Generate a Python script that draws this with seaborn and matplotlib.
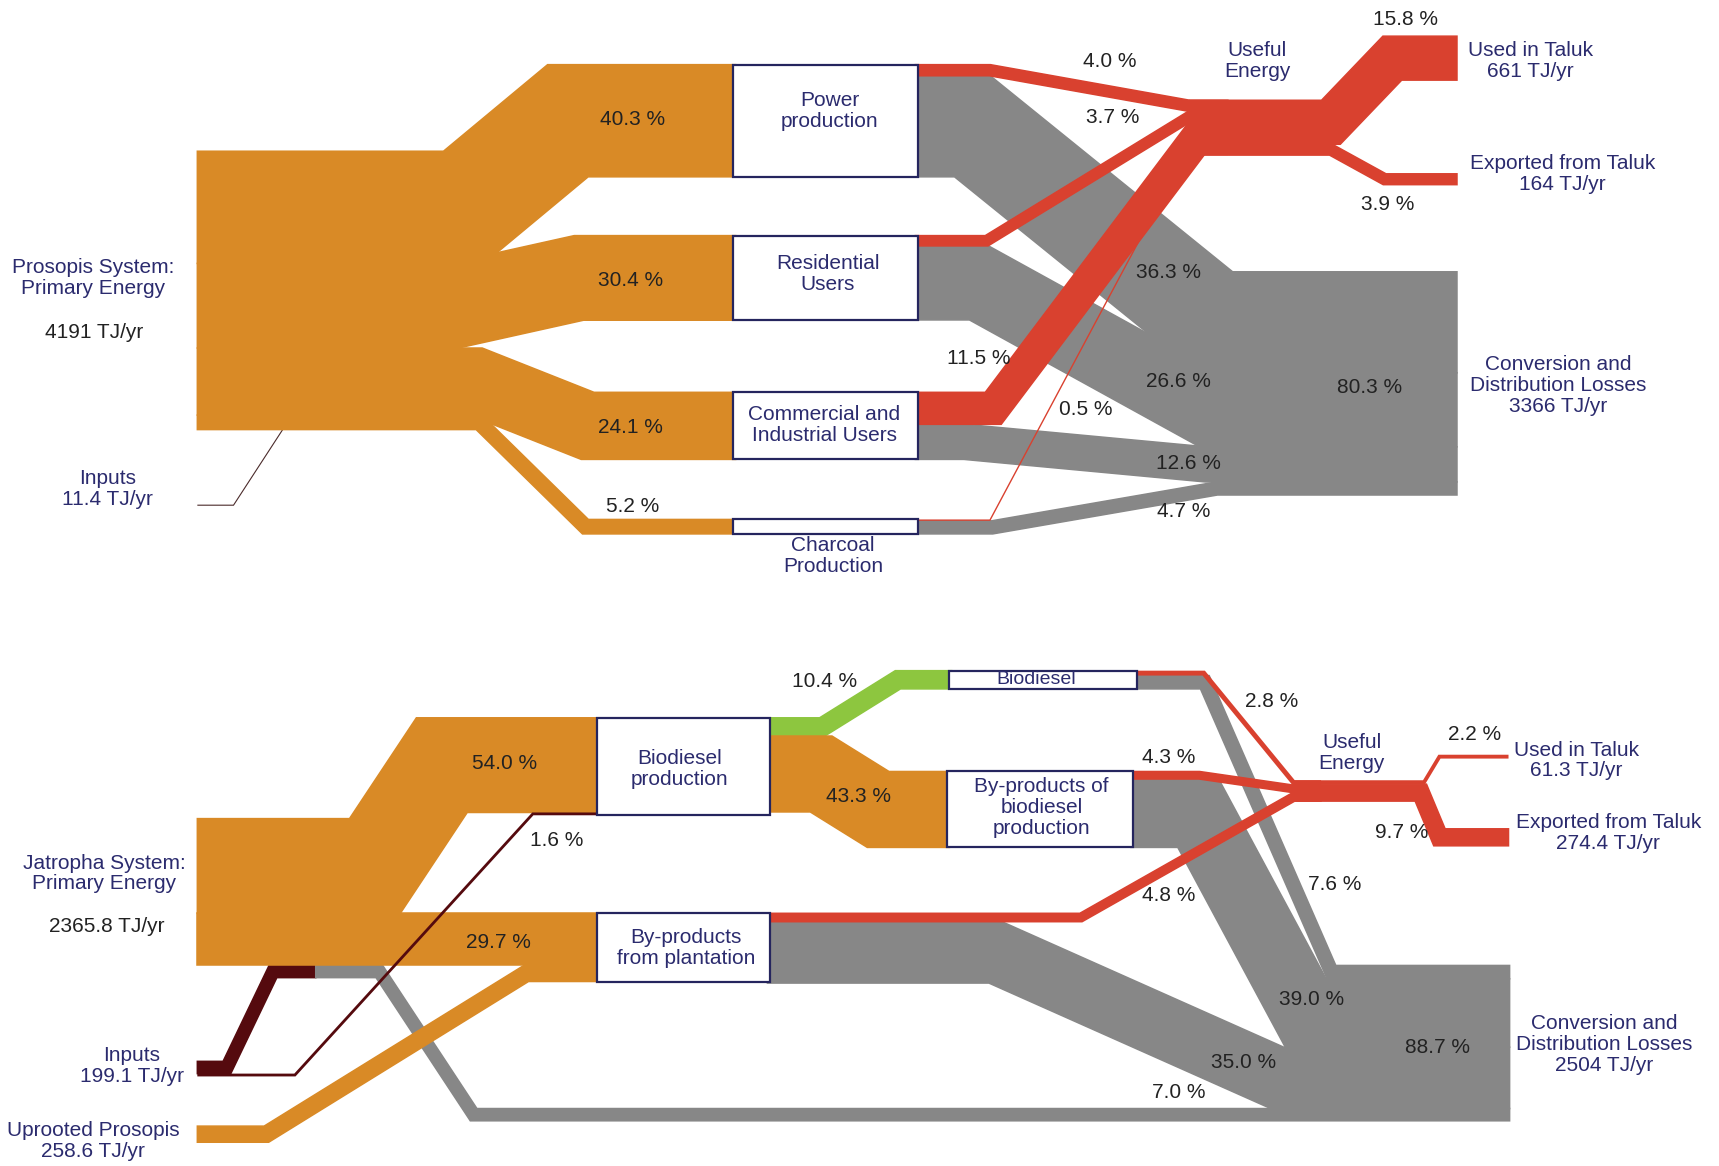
import numpy as np
import matplotlib
matplotlib.use("Agg")
import matplotlib.pyplot as plt
import seaborn as sns

# ======================= DATA =======================
# --- Prosopis system (percent of primary energy, 4191 TJ/yr) ---
pro_nodes = ["Power\nproduction", "Residential\nUsers",
             "Commercial and\nIndustrial Users", "Charcoal\nProduction"]
pro_share = [40.3, 30.4, 24.1, 5.2]          # primary -> conversion node
pro_useful = [4.0, 3.7, 11.5, 0.5]           # node -> useful energy
pro_losses = [36.3, 26.6, 12.6, 4.7]         # node -> losses
pro_useful_split = [15.8, 3.9]               # used in taluk, exported
pro_loss_total = 80.3
pro_inputs = 0.27                            # 11.4 TJ/yr

# --- Jatropha system (percent of total energy) ---
jat_primary = [54.0, 29.7]                   # -> biodiesel production, -> by-products from plantation
jat_inputs = [7.0, 1.6]                      # inputs -> losses, inputs -> biodiesel production
jat_uprooted = 9.2                           # uprooted prosopis -> by-products from plantation
jat_bd_split = [10.4, 43.3]                  # biodiesel, by-products of biodiesel production
jat_useful = [2.8, 4.3, 4.8]                 # biodiesel, by-products biodiesel, by-products plantation
jat_losses = [7.6, 39.0, 35.0, 7.0]          # biodiesel, by-products biodiesel, plantation, inputs
jat_useful_split = [2.2, 9.7]                # used in taluk, exported
jat_loss_total = 88.7

# ======================= STYLE =======================
sns.set_theme(style="white")
plt.rcParams["font.family"] = ["Liberation Sans", "DejaVu Sans"]
ORANGE = "#D98A26"
RED = "#D9412F"
GRAY = "#878787"
GREEN = "#8DC63F"
MAROON = "#550A0E"
NAVY = "#2B2B6E"
BOXEDGE = "#25255E"
TXT = "#222222"
FS = 15

fig = plt.figure(figsize=(17.19, 11.66), dpi=100)
ax = fig.add_axes([0, 0, 1, 1])
ax.set_xlim(0, 1568)
ax.set_ylim(1064, 0)
ax.axis("off")


def stack(top, vals, k):
    v = np.asarray(vals, float) * k
    tops = top + np.concatenate([[0.0], np.cumsum(v)[:-1]])
    return tops + v / 2


def miter_polygon(pts, w):
    p = np.asarray(pts, float)
    d = np.diff(p, axis=0)
    d /= np.hypot(d[:, 0], d[:, 1])[:, None]
    nrm = np.column_stack([-d[:, 1], d[:, 0]])
    offs = []
    for i in range(len(p)):
        if i == 0:
            o = nrm[0]
        elif i == len(p) - 1:
            o = nrm[-1]
        else:
            m = nrm[i - 1] + nrm[i]
            m /= np.hypot(*m)
            o = m / np.dot(m, nrm[i])
        offs.append(o * w / 2)
    offs = np.array(offs)
    return np.vstack([p + offs, (p - offs)[::-1]])


def flow(xs, ys, value, k, color, z=2):
    w = value * k
    poly = miter_polygon(list(zip(xs, ys)), w)
    lw = 1.1 if w > 6 else 0.0
    ax.fill(poly[:, 0], poly[:, 1], color=color, ec=color, lw=lw, zorder=z)


def route(x0, b1, b2, x1, y0, y1):
    return [x0, b1, b2, x1], [y0, y0, y1, y1]


def box(x0, x1, top, h, lw=1.6):
    ax.add_patch(plt.Rectangle((x0, top), x1 - x0, h, fc="white", ec=BOXEDGE,
                               lw=lw, zorder=6))


def label(x, y, s, color=NAVY, fs=FS):
    ax.text(x, y, s, ha="center", va="center", fontsize=fs, color=color,
            linespacing=1.12, zorder=10)


def pct(x, y, v):
    label(x, y, f"{v:.1f} %", color=TXT)


# ======================= PROSOPIS (top) =======================
k1 = 2.54
prim_c = stack(138, pro_share, k1)
box_top = [59, 215, 358, 474]
bx0, bx1 = 669, 837
useful_in = stack(91.5, pro_useful, k1)
useful_out = stack(91.5, pro_useful_split, k1)
loss_in = stack(248, pro_losses, k1)

# inputs line into primary block
flow([180, 213, 265], [461, 461, 381], max(pro_inputs, 0.4), k1, "#4a2a2a", z=1)

# primary -> conversion nodes
ob1 = [423, 414, 434, 437]
ob2 = [518, 528, 536, 534]
for i, v in enumerate(pro_share):
    tc = box_top[i] + v * k1 / 2
    xs, ys = route(180, ob1[i], ob2[i], bx0 + 2, prim_c[i], tc)
    flow(xs, ys, v, k1, ORANGE, z=2)

# node -> losses (gray)
gb1 = [887, 893, 880, 905]
gb2 = [1108, 1103, 1100, 1110]
for i in range(4):
    src = stack(box_top[i], [pro_useful[i], pro_losses[i]], k1)
    xs, ys = route(bx1 - 2, gb1[i], gb2[i], 1329, src[1], loss_in[i])
    flow(xs, ys, pro_losses[i], k1, GRAY, z=3)

# node -> useful (red)
rb1 = [903, 900, 906, 903]
rb2 = [1085, 1085, 1092, 1081]
for i in [3, 0, 1, 2]:
    src = stack(box_top[i], [pro_useful[i], pro_losses[i]], k1)
    xs, ys = route(bx1 - 2, rb1[i], rb2[i], 1120, src[0], useful_in[i])
    flow(xs, ys, pro_useful[i], k1, RED, z=4)

# useful -> used / exported
end_c = [33 + pro_useful_split[0] * k1 / 2, 158.6 + pro_useful_split[1] * k1 / 2]
ub1 = [1214, 1214]
ub2 = [1270, 1263]
for i, v in enumerate(pro_useful_split):
    xs, ys = route(1085, ub1[i], ub2[i], 1329, useful_out[i], end_c[i])
    flow(xs, ys, v, k1, RED, z=4)

for i, v in enumerate(pro_share):
    box(bx0, bx1, box_top[i], v * k1)

label(85, 254, "Prosopis System:\nPrimary Energy")
label(86, 303, "4191 TJ/yr", color=TXT)
label(98, 446, "Inputs\n11.4 TJ/yr")
node_lab_pos = [(757, 101), (755, 250), (752, 388), (760, 507)]
for (x, y), s in zip(node_lab_pos, pro_nodes):
    label(x, y, s)
label(1147, 56, "Useful\nEnergy")
label(1396, 56, "Used in Taluk\n661 TJ/yr")
label(1425, 159, "Exported from Taluk\n164 TJ/yr")
label(1421, 352, "Conversion and\nDistribution Losses\n3366 TJ/yr")

for (x, y), v in zip([(577, 109), (575, 256), (575, 390), (577, 462)], pro_share):
    pct(x, y, v)
for (x, y), v in zip([(1012, 56), (1015, 107), (893, 327), (990, 374)], pro_useful):
    pct(x, y, v)
for (x, y), v in zip([(1066, 249), (1075, 348), (1084, 423), (1080, 467)], pro_losses):
    pct(x, y, v)
pct(1249, 354, pro_loss_total)
pct(1282, 18, pro_useful_split[0])
pct(1266, 187, pro_useful_split[1])

# ======================= JATROPHA (bottom) =======================
k2 = 1.6
jat_c = stack(747, jat_primary, k2)
inp_c = stack(968.5, jat_inputs, k2)
upr_c = 1027.6 + jat_uprooted * k2 / 2
bdp_top, bdp_x0, bdp_x1 = 655, 544.5, 702
pl_top = 833.4
bdp_in = stack(bdp_top, [jat_primary[0], jat_inputs[1]], k2)
pl_in = stack(pl_top, [jat_primary[1], jat_uprooted], k2)
bdp_out = stack(bdp_top, jat_bd_split, k2)
bio_top, bio_x0, bio_x1 = 612, 866, 1037
byp_top, byp_x0, byp_x1 = 704, 864, 1033.5
bio_out = stack(bio_top, [jat_useful[0], jat_losses[0]], k2)
byp_out = stack(byp_top, [jat_useful[1], jat_losses[1]], k2)
pl_out = stack(pl_top, [jat_useful[2], jat_losses[2]], k2)
u_in = stack(712, jat_useful, k2)
u_out = stack(712, jat_useful_split, k2)
l_in = stack(881, jat_losses, k2)

# inputs -> losses (maroon then gray)
y_in_top = jat_c[1] + jat_primary[1] * k2 / 2 + jat_inputs[0] * k2 / 2
flow([180, 207, 249, 288], [inp_c[0], inp_c[0], y_in_top, y_in_top],
     jat_inputs[0], k2, MAROON, z=2)
flow([288, 346, 432, 1377], [y_in_top, y_in_top, l_in[3], l_in[3]], jat_inputs[0], k2, GRAY, z=2)

# primary -> biodiesel production / plantation
xs, ys = route(180, 342, 403, bdp_x0 + 2, jat_c[0], bdp_in[0])
flow(xs, ys, jat_primary[0], k2, ORANGE, z=3)
flow([180, bdp_x0 + 2], [jat_c[1], pl_in[0]], jat_primary[1], k2, ORANGE, z=3)
# uprooted prosopis
xs, ys = route(180, 243, 480, bdp_x0 + 2, upr_c, pl_in[1])
flow(xs, ys, jat_uprooted, k2, ORANGE, z=3)
# inputs -> biodiesel production (thin)
xs, ys = route(180, 269, 486, bdp_x0 + 2, inp_c[1], bdp_in[1])
flow(xs, ys, jat_inputs[1], k2, MAROON, z=4)

# biodiesel production -> biodiesel (green) / by-products (orange)
xs, ys = route(bdp_x1 - 2, 750, 819, bio_x0 + 2, bdp_out[0], bio_top + jat_bd_split[0] * k2 / 2)
flow(xs, ys, jat_bd_split[0], k2, GREEN, z=3)
xs, ys = route(bdp_x1 - 2, 749, 801, byp_x0 + 2, bdp_out[1], byp_top + jat_bd_split[1] * k2 / 2)
flow(xs, ys, jat_bd_split[1], k2, ORANGE, z=3)

# gray losses
src_l = [bio_out[1], byp_out[1], pl_out[1]]
sx_l = [bio_x1 - 2, byp_x1 - 2, bdp_x1 - 2]
lb1 = [1099, 1093, 908]
lb2 = [1214.5, 1191, 1165]
for i in [2, 1, 0]:
    xs, ys = route(sx_l[i], lb1[i], lb2[i], 1377, src_l[i], l_in[i])
    flow(xs, ys, jat_losses[i], k2, GRAY, z=3)

# red useful
src_u = [bio_out[0], byp_out[0], pl_out[0]]
sx_u = [bio_x1 - 2, byp_x1 - 2, bdp_x1 - 2]
ub1b = [1098, 1094, 986]
for i in range(3):
    xs, ys = route(sx_u[i], ub1b[i], 1180, 1205, src_u[i], u_in[i])
    flow(xs, ys, jat_useful[i], k2, RED, z=4)
end_u = [688.7 + jat_useful_split[0] * k2 / 2, 756.3 + jat_useful_split[1] * k2 / 2]
ob1b = [1299, 1296]
ob2b = [1313, 1313]
for i, v in enumerate(jat_useful_split):
    xs, ys = route(1180, ob1b[i], ob2b[i], 1376, u_out[i], end_u[i])
    flow(xs, ys, v, k2, RED, z=4)

# boxes
box(bdp_x0, bdp_x1, bdp_top, (jat_primary[0] + jat_inputs[1]) * k2)
box(bdp_x0, bdp_x1, pl_top, (jat_primary[1] + jat_uprooted) * k2)
box(bio_x0, bio_x1, bio_top, jat_bd_split[0] * k2)
box(byp_x0, byp_x1, byp_top, jat_bd_split[1] * k2)

label(95, 797, "Jatropha System:\nPrimary Energy")
label(97, 845, "2365.8 TJ/yr", color=TXT)
label(120, 973, "Inputs\n199.1 TJ/yr")
label(85, 1041, "Uprooted Prosopis\n258.6 TJ/yr")
label(620, 702, "Biodiesel\nproduction")
label(626, 865, "By-products\nfrom plantation")
label(945, 620, "Biodiesel", fs=14)
label(950, 737, "By-products of\nbiodiesel\nproduction")
label(1233, 687, "Useful\nEnergy")
label(1438, 694, "Used in Taluk\n61.3 TJ/yr")
label(1467, 760, "Exported from Taluk\n274.4 TJ/yr")
label(1463, 953, "Conversion and\nDistribution Losses\n2504 TJ/yr")

pct(460, 697, jat_primary[0])
pct(455, 860, jat_primary[1])
pct(508, 767, jat_inputs[1])
pct(1075, 997, jat_inputs[0])
pct(752, 622, jat_bd_split[0])
pct(783, 727, jat_bd_split[1])
for (x, y), v in zip([(1160, 640), (1066, 691), (1066, 817)], jat_useful):
    pct(x, y, v)
for (x, y), v in zip([(1217, 807), (1196, 912), (1134, 970)], jat_losses[:3]):
    pct(x, y, v)
pct(1311, 956, jat_loss_total)
pct(1345, 670, jat_useful_split[0])
pct(1279, 760, jat_useful_split[1])

fig.savefig("out.png", dpi=100, facecolor="white")
